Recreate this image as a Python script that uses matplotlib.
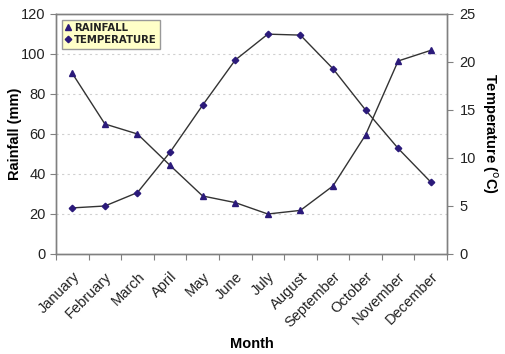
import matplotlib.pyplot as plt
import numpy as np

plt.rcParams['font.family'] = ['Liberation Sans', 'DejaVu Sans']

months = ["January", "February", "March", "April", "May", "June", "July",
          "August", "September", "October", "November", "December"]
rainfall = [90.3, 65, 60, 44.3, 29, 25.7, 20, 21.8, 34, 59.5, 96.5, 101.8]
temperature = [4.8, 5.0, 6.4, 10.6, 15.5, 20.2, 22.9, 22.8, 19.3, 15.0, 11.0, 7.5]

marker_col = "#2B1A7A"
spine_col = "#808080"

fig = plt.figure(figsize=(5.06, 3.54), dpi=100)
ax = fig.add_axes([0.1107, 0.2825, 0.7727, 0.678])
ax2 = ax.twinx()

x = np.arange(len(months))
l1, = ax.plot(x, rainfall, color="#333333", lw=1, marker="^", ms=4.5,
              mfc=marker_col, mec=marker_col, label="RAINFALL")
l2, = ax2.plot(x, temperature, color="#333333", lw=1, marker="D", ms=3.3,
               mfc=marker_col, mec=marker_col, label="TEMPERATURE")

ax.set_xlim(-0.5, 11.5)
ax.set_ylim(0, 120)
ax2.set_ylim(0, 25)
ax.set_yticks(range(0, 121, 20))
ax2.set_yticks(range(0, 26, 5))

for yv in range(20, 120, 20):
    ax.axhline(yv, color="#d0d0d0", lw=0.8, ls=(0, (2, 3)), zorder=0)

ax.set_xticks(np.arange(-0.5, 12, 1))
ax.set_xticklabels([])
ax.set_xticks(x, minor=True)
ax.set_xticklabels(months, minor=True, rotation=45, ha="right",
                   rotation_mode="anchor", fontsize=10.5, color="#222222")
ax.tick_params(axis="x", which="minor", length=0, pad=11)
ax.tick_params(axis="x", which="major", length=4, direction="out", color=spine_col)
ax.tick_params(axis="y", length=4, direction="out", color=spine_col,
               labelsize=10.5, labelcolor="#222222")
ax2.tick_params(axis="y", length=4, direction="out", color=spine_col,
                labelsize=10.5, labelcolor="#222222", pad=5)

for a in (ax, ax2):
    for s in a.spines.values():
        s.set_color(spine_col)
        s.set_linewidth(1)

ax.set_xlabel("Month", fontsize=10.5, fontweight="bold", va="center")
ax.set_ylabel("Rainfall (mm)", fontsize=10.5, fontweight="bold",
              va="center", ha="center")
ax2.set_ylabel("Temperature ($^{\\mathrm{o}}$C)", fontsize=10.5,
               fontweight="bold", rotation=270, va="center", ha="center")
ax.xaxis.set_label_coords(0.5, -0.375)
ax.yaxis.set_label_coords(-0.105, 0.5)
ax2.yaxis.set_label_coords(1.11, 0.5)

leg = ax2.legend(handles=[l1, l2], loc="upper left", bbox_to_anchor=(0.01, 0.985),
                 frameon=True, fancybox=False, fontsize=8, handlelength=0.5,
                 handletextpad=0.3, borderpad=0.3, labelspacing=0.2,
                 borderaxespad=0.2)
leg.get_frame().set_facecolor("#FFFFC8")
leg.get_frame().set_edgecolor("#999999")
leg.get_frame().set_alpha(1)
for line in leg.get_lines():
    line.set_linestyle("none")
for t in leg.get_texts():
    t.set_fontweight("bold")
    t.set_family(["DejaVu Sans"])
    t.set_fontsize(7.3)
    t.set_color("#222222")

fig.savefig("out.png", dpi=100)
